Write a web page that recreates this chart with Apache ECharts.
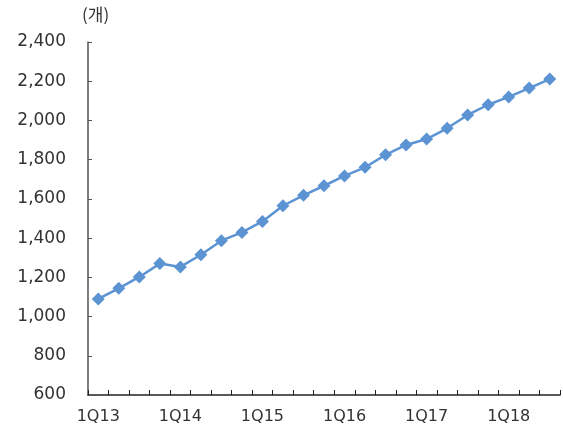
<!DOCTYPE html>
<html>
<head>
<meta charset="utf-8">
<script src="https://cdn.jsdelivr.net/npm/echarts@6/dist/echarts.min.js"></script>
<style>
  html, body { margin: 0; padding: 0; background: #fff; }
  #chart { width: 563px; height: 431px; }
</style>
</head>
<body>
<div id="chart"></div>
<script>
let quarters = [
  '1Q13', '2Q13', '3Q13', '4Q13',
  '1Q14', '2Q14', '3Q14', '4Q14',
  '1Q15', '2Q15', '3Q15', '4Q15',
  '1Q16', '2Q16', '3Q16', '4Q16',
  '1Q17', '2Q17', '3Q17', '4Q17',
  '1Q18', '2Q18', '3Q18'
]
let counts = [
  1090, 1144, 1202, 1270,
  1253, 1315, 1387, 1429,
  1485, 1565, 1618, 1667,
  1717, 1761, 1825, 1875,
  1905, 1960, 2028, 2080,
  2120, 2165, 2211
]
let unitLabel = '(개)'

let myChart = echarts.init(document.getElementById('chart'))
myChart.setOption({
  animation: false,
  textStyle: {
    fontFamily: 'DejaVu Sans, sans-serif'
  },
  grid: {
    left: 88,
    right: 3,
    top: 42,
    bottom: 36
  },
  graphic: [
    {
      type: 'text',
      left: 82,
      top: 6,
      style: {
        text: unitLabel,
        fontSize: 17,
        fill: '#333',
        fontFamily: 'Noto Sans CJK KR, sans-serif'
      }
    }
  ],
  xAxis: {
    type: 'category',
    data: quarters,
    boundaryGap: true,
    axisLine: {
      lineStyle: { color: '#222', width: 1.5 }
    },
    axisTick: {
      show: true,
      inside: true,
      length: 5,
      interval: 0,
      lineStyle: { color: '#222' }
    },
    axisLabel: {
      interval: 3,
      fontSize: 16,
      color: '#333',
      margin: 14
    },
    splitLine: { show: false }
  },
  yAxis: {
    type: 'value',
    min: 600,
    max: 2400,
    interval: 200,
    axisLine: {
      show: true,
      lineStyle: { color: '#555', width: 1.5 }
    },
    axisTick: {
      show: true,
      inside: true,
      length: 4,
      lineStyle: { color: '#555' }
    },
    axisLabel: {
      fontSize: 17,
      color: '#333',
      margin: 22,
      formatter: function (v) {
        return v.toLocaleString('en-US')
      }
    },
    splitLine: { show: false }
  },
  series: [
    {
      type: 'line',
      data: counts,
      symbol: 'diamond',
      symbolSize: 13,
      lineStyle: { color: '#5b93d3', width: 2.5 },
      itemStyle: { color: '#5b93d3' }
    }
  ]
})
</script>
</body>
</html>
